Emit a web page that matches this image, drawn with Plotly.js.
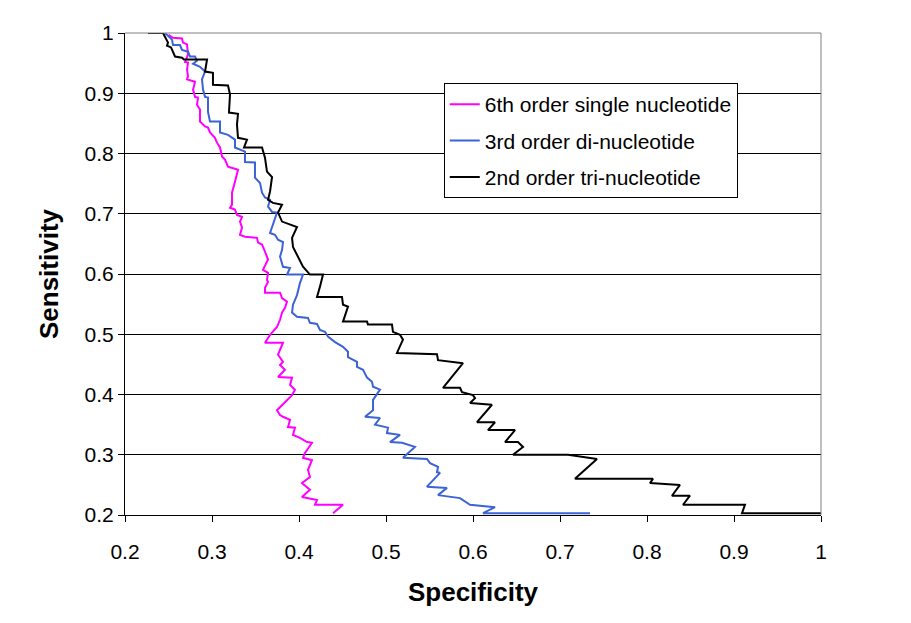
<!DOCTYPE html>
<html>
<head>
<meta charset="utf-8">
<script src="https://cdn.plot.ly/plotly-3.0.1.min.js"></script>
<style>html,body{margin:0;padding:0;background:#fff;}#chart{width:911px;height:623px;}</style>
</head>
<body>
<div id="chart"></div>
<script>
// Series names
const seriesNames = ["6th order single nucleotide", "3rd order di-nucleotide", "2nd order tri-nucleotide"];

// 6th order single nucleotide (magenta)
const singleSpec = [0.250,0.2552,0.2655,0.2667,0.2713,0.2724,0.2690,0.2724,0.2713,0.2724,0.2713,0.2805,0.2782,0.2805,0.2839,0.2828,0.2862,0.2862,0.2920,0.2954,0.2977,0.3034,0.3057,0.3092,0.3115,0.3149,0.3184,0.3299,0.3264,0.3230,0.3230,0.3207,0.3264,0.3287,0.3345,0.3322,0.3345,0.3322,0.3379,0.3517,0.3529,0.3575,0.3609,0.3644,0.3586,0.3644,0.3632,0.3644,0.3609,0.3609,0.3782,0.3805,0.3862,0.3839,0.3805,0.3782,0.3747,0.3667,0.3609,0.3816,0.3759,0.3816,0.3782,0.3839,0.3759,0.3920,0.3897,0.3954,0.3920,0.3747,0.3782,0.3816,0.3897,0.3874,0.3954,0.3931,0.4011,0.4092,0.4149,0.4069,0.4046,0.4149,0.4103,0.4126,0.4034,0.4092,0.4126,0.4034,0.4207,0.4184,0.4506,0.4391];
const singleSens = [0.997,0.992,0.991,0.984,0.981,0.964,0.952,0.951,0.939,0.928,0.923,0.919,0.906,0.894,0.893,0.881,0.873,0.853,0.845,0.843,0.835,0.826,0.818,0.810,0.795,0.790,0.778,0.773,0.753,0.735,0.715,0.710,0.707,0.698,0.695,0.687,0.677,0.665,0.662,0.660,0.652,0.649,0.637,0.624,0.607,0.602,0.590,0.587,0.577,0.569,0.569,0.560,0.554,0.544,0.536,0.524,0.512,0.499,0.486,0.486,0.466,0.454,0.449,0.441,0.429,0.428,0.416,0.408,0.399,0.374,0.366,0.363,0.358,0.346,0.345,0.333,0.328,0.321,0.320,0.303,0.295,0.291,0.275,0.263,0.253,0.247,0.242,0.230,0.225,0.217,0.217,0.203];

// 3rd order di-nucleotide (blue)
const diSpec = [0.246,0.2540,0.2552,0.2632,0.2655,0.2724,0.2747,0.2805,0.2828,0.2782,0.2862,0.2920,0.2885,0.2897,0.2920,0.2954,0.2954,0.2977,0.3092,0.3092,0.3184,0.3264,0.3264,0.3379,0.3379,0.3494,0.3494,0.3552,0.3575,0.3609,0.3667,0.3644,0.3690,0.3747,0.3667,0.3724,0.3759,0.3816,0.3805,0.3782,0.3816,0.3897,0.3862,0.4046,0.4011,0.3977,0.3931,0.3920,0.3977,0.4103,0.4126,0.4207,0.4241,0.4299,0.4333,0.4414,0.4506,0.4563,0.4563,0.4667,0.4667,0.4736,0.4782,0.4839,0.4851,0.4931,0.4851,0.4851,0.4759,0.4931,0.4874,0.5023,0.5011,0.5161,0.5046,0.5184,0.5333,0.5195,0.5471,0.5506,0.5598,0.5586,0.5621,0.5471,0.5701,0.5598,0.5851,0.5966,0.6253,0.6115,0.7345];
const diSens = [1.000,0.989,0.980,0.980,0.972,0.969,0.961,0.961,0.954,0.949,0.944,0.936,0.923,0.906,0.894,0.893,0.869,0.853,0.853,0.835,0.831,0.823,0.810,0.803,0.786,0.785,0.760,0.751,0.735,0.727,0.723,0.712,0.703,0.702,0.668,0.665,0.657,0.653,0.640,0.629,0.612,0.610,0.599,0.599,0.585,0.565,0.549,0.536,0.529,0.527,0.519,0.517,0.507,0.504,0.496,0.487,0.479,0.471,0.462,0.454,0.446,0.441,0.428,0.421,0.413,0.408,0.391,0.374,0.363,0.361,0.350,0.345,0.336,0.333,0.321,0.320,0.313,0.295,0.293,0.286,0.280,0.271,0.270,0.247,0.245,0.233,0.228,0.217,0.213,0.203,0.203];

// 2nd order tri-nucleotide (black)
const triSpec = [0.2264,0.2437,0.2494,0.2483,0.2529,0.2575,0.2655,0.2678,0.2943,0.2920,0.3011,0.3011,0.3184,0.3207,0.3195,0.3299,0.3287,0.3299,0.3402,0.3368,0.3575,0.3609,0.3632,0.3690,0.3667,0.3644,0.3701,0.3805,0.3759,0.3805,0.3977,0.3920,0.3931,0.3989,0.4046,0.4126,0.4276,0.4241,0.4207,0.4494,0.4506,0.4563,0.4506,0.4782,0.4793,0.5069,0.5080,0.5161,0.5195,0.5126,0.5586,0.5598,0.5885,0.5655,0.5851,0.5874,0.6000,0.6023,0.5966,0.6218,0.6046,0.6253,0.6172,0.6483,0.6368,0.6517,0.6575,0.6460,0.7092,0.7425,0.7172,0.8069,0.8034,0.8379,0.8287,0.8494,0.8414,0.9126,0.9092,1.000];
const triSens = [1.000,1.000,0.984,0.979,0.976,0.961,0.959,0.956,0.956,0.936,0.934,0.914,0.913,0.898,0.868,0.866,0.848,0.826,0.823,0.810,0.810,0.793,0.770,0.761,0.737,0.723,0.718,0.715,0.702,0.687,0.678,0.660,0.645,0.629,0.612,0.599,0.599,0.579,0.562,0.562,0.549,0.546,0.521,0.521,0.516,0.516,0.504,0.499,0.491,0.469,0.467,0.457,0.452,0.411,0.411,0.404,0.399,0.394,0.386,0.383,0.354,0.354,0.341,0.341,0.321,0.321,0.313,0.300,0.300,0.293,0.260,0.260,0.253,0.250,0.232,0.232,0.217,0.217,0.203,0.203];

// Axis ticks
const xTicks = [0.2,0.3,0.4,0.5,0.6,0.7,0.8,0.9,1];
const xTickText = ["0.2","0.3","0.4","0.5","0.6","0.7","0.8","0.9","1"];
const yTicks = [0.2,0.3,0.4,0.5,0.6,0.7,0.8,0.9,1];
const yTickText = ["0.2","0.3","0.4","0.5","0.6","0.7","0.8","0.9","1"];

const FONT = "Liberation Sans, Arial, sans-serif";
const colors = ["#FF00FF", "#3B63D6", "#000000"];
const xs = [singleSpec, diSpec, triSpec];
const ys = [singleSens, diSens, triSens];

const traces = seriesNames.map((n, i) => ({
  type: "scatter", mode: "lines", name: n,
  x: xs[i], y: ys[i],
  line: {color: colors[i], width: 2},
  legendgroup: "g" + i,
  cliponaxis: false
}));

const layout = {
  width: 911, height: 623,
  margin: {l: 125, r: 90, t: 33, b: 108},
  paper_bgcolor: "#ffffff", plot_bgcolor: "#ffffff",
  font: {family: FONT, color: "#000", size: 21},
  showlegend: true,
  legend: {
    x: 0.458, y: 0.896, xanchor: "left", yanchor: "top",
    bgcolor: "#ffffff", bordercolor: "#000", borderwidth: 1,
    font: {family: FONT, size: 21, color: "#000"},
    itemwidth: 30, tracegroupgap: 6, traceorder: "grouped"
  },
  xaxis: {
    range: [0.2, 1], tickmode: "array", tickvals: xTicks, ticktext: xTickText,
    showgrid: false, zeroline: false,
    showline: true, linecolor: "#000", linewidth: 1,
    ticks: "outside", ticklen: 6, tickcolor: "#000",
    ticklabelstandoff: 12,
    tickfont: {family: FONT, size: 21, color: "#000"},
    title: {text: "Specificity", font: {family: FONT, size: 26, color: "#000", weight: "bold"}, standoff: 20}
  },
  yaxis: {
    range: [0.2, 1], tickmode: "array", tickvals: yTicks, ticktext: yTickText,
    showgrid: true, gridcolor: "#000", gridwidth: 1, zeroline: false,
    showline: true, linecolor: "#000", linewidth: 1,
    ticks: "outside", ticklen: 6, tickcolor: "#000",
    tickfont: {family: FONT, size: 21, color: "#000"},
    title: {text: "Sensitivity", font: {family: FONT, size: 26, color: "#000", weight: "bold"}, standoff: 18}
  },
  shapes: [
    {type: "path", xref: "paper", yref: "paper", path: "M 0 1 L 1 1 L 1 0", line: {color: "#808080", width: 1}, layer: "above"}
  ]
};

Plotly.newPlot("chart", traces, layout, {displayModeBar: false, staticPlot: true});
</script>
</body>
</html>
